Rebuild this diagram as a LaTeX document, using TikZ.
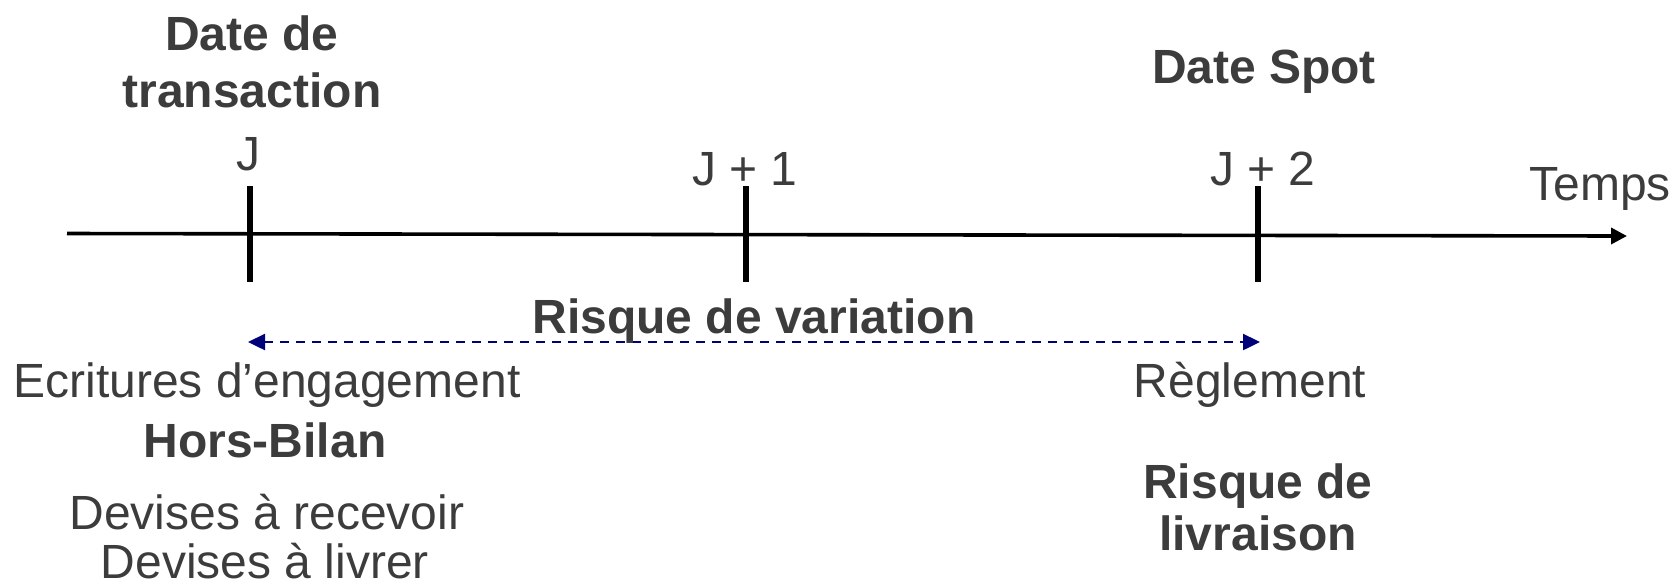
\documentclass[tikz,border=0pt]{standalone}
\usepackage{fontspec}
\setmainfont{Liberation Sans}
\usetikzlibrary{arrows.meta}
\definecolor{txt}{RGB}{60,60,60}
\definecolor{navyblue}{RGB}{0,0,120}
\tikzset{
  lbl/.style={anchor=base, inner sep=0pt, text=txt, font=\fontsize{24}{29}\selectfont},
  blbl/.style={lbl, font=\fontsize{24}{29}\selectfont\bfseries},
  tick/.style={line width=3pt, black},
  axis/.style={line width=1.8pt, black, -{Triangle[length=8pt,width=8pt]}},
  risk/.style={line width=1.2pt, navyblue, dash pattern=on 4.5pt off 3.5pt, {Triangle[length=8.5pt,width=8pt]}-{Triangle[length=8.5pt,width=8pt]}}
}
\begin{document}
\begin{tikzpicture}[x=0.5pt,y=-0.5pt]
\useasboundingbox (0,0) rectangle (1675,586);
% axis
\coordinate (a0) at (67,233.5);
\coordinate (a1) at (1627,236);
\draw[axis] (a0) -- (a1);
% ticks
\coordinate (t0a) at (250,186); \coordinate (t0b) at (250,282);
\coordinate (t1a) at (746,186); \coordinate (t1b) at (746,282);
\coordinate (t2a) at (1258,186); \coordinate (t2b) at (1258,282);
\draw[tick] (t0a) -- (t0b);
\draw[tick] (t1a) -- (t1b);
\draw[tick] (t2a) -- (t2b);
% dashed risk arrow
\coordinate (r0) at (248,342);
\coordinate (r1) at (1260,342);
\draw[risk] (r0) -- (r1);
% top labels
\node[blbl] (dt1) at (252,50) {Date de};
\node[blbl] (dt2) at (252,107) {transaction};
\node[blbl] (ds) at (1264,83) {Date Spot};
\node[lbl] (j0) at (248,170) {J};
\node[lbl] (j1) at (745,185) {J + 1};
\node[lbl] (j2) at (1263,185) {J + 2};
\node[lbl] (temps) at (1600,200) {Temps};
% middle
\node[blbl] (rv) at (754,333) {Risque de variation};
% bottom left
\node[lbl] (ecr) at (267,397) {Ecritures d’engagement};
\node[blbl] (hb) at (265,457) {Hors-Bilan};
\node[lbl] (dr) at (267,529) {Devises à recevoir};
\node[lbl] (dl) at (265,578) {Devises à livrer};
% bottom right
\node[lbl] (reg) at (1250,397) {Règlement};
\node[blbl] (rl1) at (1258,498) {Risque de};
\node[blbl] (rl2) at (1258,550) {livraison};
\end{tikzpicture}
\end{document}
